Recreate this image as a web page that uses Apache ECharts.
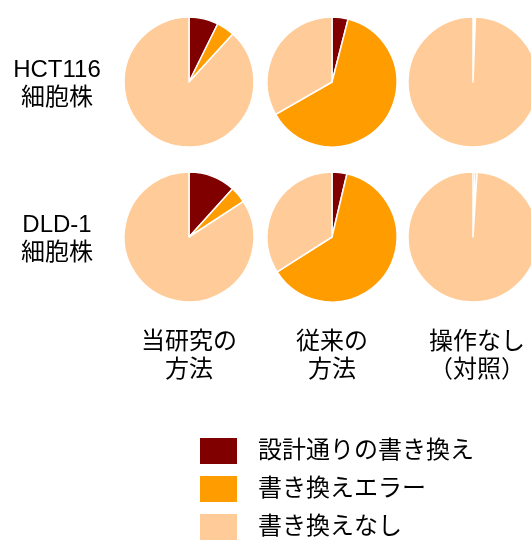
<!DOCTYPE html>
<html>
<head>
<meta charset="utf-8">
<script src="https://cdn.jsdelivr.net/npm/echarts@6/dist/echarts.min.js"></script>
<style>
    html, body { margin: 0; padding: 0; background: #fff; }
    #chart { width: 531px; height: 542px; }
</style>
</head>
<body>
<div id="chart"></div>
<script>
    // 凡例の項目
    var categories = ['設計通りの書き換え', '書き換えエラー', '書き換えなし'];
    var colors = ['#800000', '#FF9C00', '#FFCC99'];

    // 列ラベル・行ラベル
    var methods = ['当研究の\n方法', '従来の\n方法', '操作なし\n（対照）'];
    var cellLines = ['HCT116\n細胞株', 'DLD-1\n細胞株'];

    // 割合(%) 左から 当研究 / 従来 / 対照
    var hct116 = [[7.3, 4.5, 88.2], [4.0, 62.7, 33.3], [0.3, 0.3, 99.4]];
    var dld1 = [[11.7, 4.1, 84.2], [3.7, 62.3, 34.0], [0.5, 0.5, 99.0]];

    var colX = [189, 332, 473];
    var rowY = [82, 237];
    var font = '"Liberation Sans", "Noto Sans CJK JP", sans-serif';

    var rows = [hct116, dld1];
    var series = [];
    rows.forEach(function (row, r) {
        row.forEach(function (vals, c) {
            series.push({
                type: 'pie',
                center: [colX[c], rowY[r]],
                radius: 65,
                startAngle: 90,
                clockwise: true,
                silent: true,
                animation: false,
                label: { show: false },
                labelLine: { show: false },
                itemStyle: { borderColor: '#fff', borderWidth: 1.5 },
                data: vals.map(function (v, i) {
                    return { name: categories[i], value: v };
                })
            });
        });
    });

    var graphics = [];
    cellLines.forEach(function (t, r) {
        graphics.push({
            type: 'text',
            x: 57,
            y: rowY[r] + 2,
            style: {
                text: t,
                font: '24px ' + font,
                fill: '#000',
                align: 'center',
                verticalAlign: 'middle',
                lineHeight: 28
            }
        });
    });
    methods.forEach(function (t, c) {
        graphics.push({
            type: 'text',
            x: colX[c] + (c === 2 ? 4 : 0),
            y: 356,
            style: {
                text: t,
                font: '24px ' + font,
                fill: '#000',
                align: 'center',
                verticalAlign: 'middle',
                lineHeight: 28
            }
        });
    });

    var myChart = echarts.init(document.getElementById('chart'));
    myChart.setOption({
        color: colors,
        animation: false,
        legend: {
            data: categories,
            orient: 'vertical',
            left: 198,
            top: 436,
            height: 120,
            padding: 0,
            icon: 'rect',
            itemWidth: 39,
            itemHeight: 28,
            itemGap: 8,
            selectedMode: false,
            textStyle: {
                fontSize: 24,
                lineHeight: 28,
                fontFamily: font,
                color: '#000',
                padding: [0, 0, 0, 15]
            }
        },
        graphic: graphics,
        series: series
    });
</script>
</body>
</html>
